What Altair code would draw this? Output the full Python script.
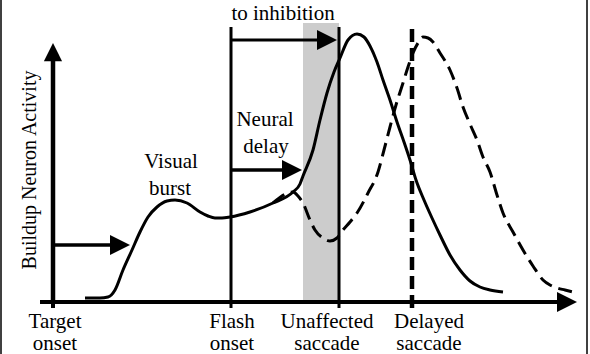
import altair as alt
import pandas as pd

# ---- curve data (time position, activity above baseline) ----
solid_t = [85, 100, 108, 115, 123, 132, 140, 148, 157, 167, 175, 187, 200, 208, 215, 222, 230,
           250, 273, 293, 300, 303, 313, 320, 327, 334, 340, 348, 357, 364, 370, 377, 383, 390,
           397, 404, 410, 416, 424, 432, 440, 450, 460, 470, 480, 490, 503]
solid_a = [4, 4, 5, 12, 32, 52, 70, 85, 95, 101, 102, 99, 90, 86, 84, 84, 85,
           90, 99, 110, 118, 126, 152, 182, 209, 230, 244, 262, 268, 265, 256, 240, 222, 202,
           180, 160, 142, 122, 102, 84, 67, 47, 32, 21, 15, 12, 10]

dashed_t = [273, 293, 298, 303, 310, 315, 323, 330, 337, 343, 350, 357, 368, 378, 384, 390, 396,
            403, 408, 413, 418, 423, 428, 433, 440, 450, 457, 463, 470, 477, 483, 490, 497, 503,
            513, 523, 533, 543, 550, 557, 565, 573]
dashed_a = [99, 110, 106, 99, 82, 72, 64, 61, 64, 72, 80, 89, 109, 130, 152, 175, 197,
            219, 235, 249, 259, 265, 264, 260, 249, 232, 214, 195, 178, 162, 145, 130, 107, 89,
            70, 52, 36, 22, 17, 14, 12, 10]

# ---- event markers ----
event_t = [53, 231, 339, 412]
event_line1 = ["Target", "Flash", "Unaffected", "Delayed"]
event_line2 = ["onset", "onset", "saccade", "saccade"]
event_label_t = [55, 232, 327, 429]

# ---- annotations ----
ann_text = ["to inhibition", "Neural", "delay", "Visual", "burst"]
ann_t = [283, 265, 266, 171, 170]
ann_a = [282, 176, 149, 134, 107]

y_title = "Buildup Neuron Activity"

# ---- scales ----
xs = alt.Scale(domain=[0, 590], nice=False, zero=False)
ys = alt.Scale(domain=[-52, 302], nice=False, zero=False)


def X(f):
    return alt.X(f, type="quantitative", scale=xs, axis=None)


def Y(f):
    return alt.Y(f, type="quantitative", scale=ys, axis=None)


def X2(f):
    return alt.X2(f)


def Y2(f):
    return alt.Y2(f)


FONT = "Liberation Serif, Times New Roman, Times, serif"

solid_df = pd.DataFrame({"t": solid_t, "a": solid_a, "i": range(len(solid_t))})
dashed_df = pd.DataFrame({"t": dashed_t, "a": dashed_a, "i": range(len(dashed_t))})

# shaded window (between earliest possible inhibition and unaffected saccade)
shade_df = pd.DataFrame({"t": [303], "t2": [event_t[2]], "a": [0], "a2": [279]})
shade = alt.Chart(shade_df).mark_rect(color="#cccccc").encode(
    x=X("t"), x2=X2("t2"), y=Y("a"), y2=Y2("a2"))

# solid segments
seg_df = pd.DataFrame({
    "t":  [40, 53, event_t[0], event_t[1], event_t[2], event_t[1], event_t[1], event_t[0]],
    "t2": [565, 53, event_t[0], event_t[1], event_t[2], 322, 287, 115],
    "a":  [0, -2, -6, -6, -6, 262, 132, 57],
    "a2": [0, 250, 0, 275, 275, 262, 132, 57],
    "w":  [4, 4.5, 4, 3, 3, 3, 3.5, 3.5],
})
segs = alt.Chart(seg_df).mark_rule(color="black", strokeCap="butt").encode(
    x=X("t"), x2=X2("t2"), y=Y("a"), y2=Y2("a2"),
    strokeWidth=alt.StrokeWidth("w:Q", scale=None))

delayed_df = pd.DataFrame({"t": [event_t[3]], "a": [-6], "a2": [275]})
delayed = alt.Chart(delayed_df).mark_rule(
    color="black", strokeWidth=4.5, strokeDash=[13, 6], strokeCap="butt").encode(
    x=X("t"), y=Y("a"), y2=Y2("a2"))

border_df = pd.DataFrame({"t": [1, 587], "a": [-52, -52], "a2": [302, 302]})
border = alt.Chart(border_df).mark_rule(color="black", strokeWidth=1.5).encode(
    x=X("t"), y=Y("a"), y2=Y2("a2"))

# curves
dashed = alt.Chart(dashed_df).mark_line(
    color="black", strokeWidth=3, strokeDash=[14, 7], interpolate="monotone").encode(
    x=X("t"), y=Y("a"), order="i:Q")
solid = alt.Chart(solid_df).mark_line(
    color="black", strokeWidth=3, interpolate="monotone").encode(
    x=X("t"), y=Y("a"), order="i:Q")

# arrowheads (tips)
right_df = pd.DataFrame({"t": [337, 302, 130, 577], "a": [262, 132, 57, 0]})
right_heads = alt.Chart(right_df).mark_point(
    shape="M0,0L-2,-1L-2,1Z", size=400, filled=True, color="black",
    opacity=1, strokeWidth=0).encode(x=X("t"), y=Y("a"))
up_df = pd.DataFrame({"t": [53], "a": [259]})
up_heads = alt.Chart(up_df).mark_point(
    shape="M0,0L-1,2L1,2Z", size=330, filled=True, color="black",
    opacity=1, strokeWidth=0).encode(x=X("t"), y=Y("a"))

# texts
ev_df = pd.DataFrame({
    "txt": event_line1 + event_line2,
    "t": event_label_t + event_label_t,
    "a": [-26] * 4 + [-48] * 4,
})
ann_df = pd.DataFrame({"txt": ann_text, "t": ann_t, "a": ann_a})
txt_df = pd.concat([ev_df, ann_df], ignore_index=True)
texts = alt.Chart(txt_df).mark_text(
    font=FONT, fontSize=21, align="center", baseline="alphabetic", color="black").encode(
    x=X("t"), y=Y("a"), text="txt:N")

ytitle_df = pd.DataFrame({"txt": [y_title], "t": [36], "a": [132]})
ytitle = alt.Chart(ytitle_df).mark_text(
    font=FONT, fontSize=20, align="center", baseline="alphabetic", angle=270,
    color="black").encode(x=X("t"), y=Y("a"), text="txt:N")

chart = alt.layer(
    shade, dashed, solid, segs, delayed, border, right_heads, up_heads, texts, ytitle
).properties(
    width=590, height=354, padding=0, autosize=alt.AutoSizeParams(type="none"),
    background="white"
).configure_view(stroke=None)

chart.save("out.html", embed_options={"renderer": "svg", "actions": False})
